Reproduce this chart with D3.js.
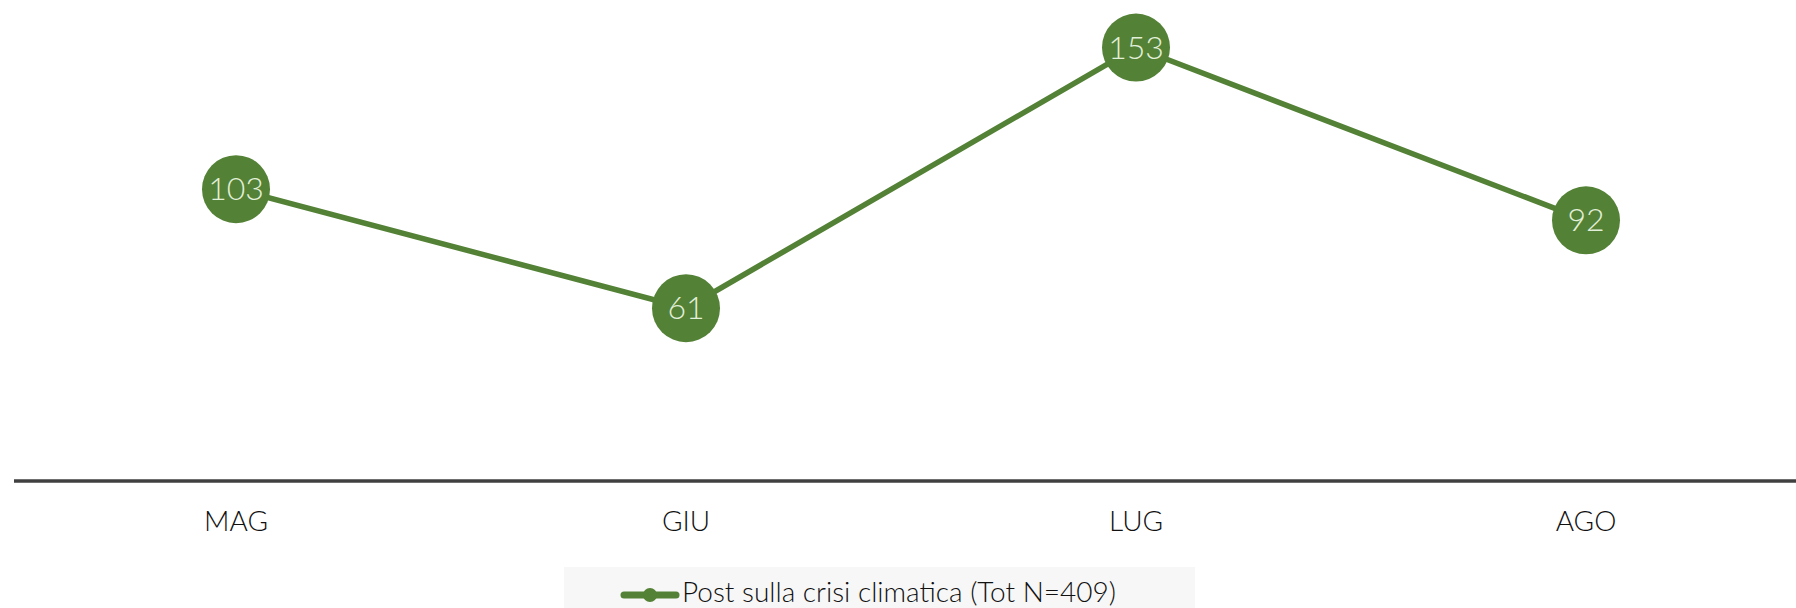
<!DOCTYPE html>
<html>
<head>
<meta charset="utf-8">
<script src="https://cdn.jsdelivr.net/npm/d3@7"></script>
<style>
  body { margin: 0; background: #fff; }
  svg text { font-family: Lato, "Open Sans", sans-serif; font-weight: 300; }
</style>
</head>
<body>
<div id="chart"></div>
<script>
  // Dati
  var mesi = ['MAG', 'GIU', 'LUG', 'AGO'];
  var post = [103, 61, 153, 92];
  var serieNome = 'Post sulla crisi climatica (Tot N=409)';

  var width = 1796;
  var height = 608;
  var verde = '#538135';

  var svg = d3.select('#chart')
      .append('svg')
      .attr('width', width)
      .attr('height', height);

  // Scale
  var x = d3.scaleBand()
      .domain(mesi)
      .range([11, 1811]);

  var y = d3.scaleLinear()
      .domain([0, 160])
      .range([481, 481 - 160 * 2.833]);

  // Asse x
  svg.append('line')
      .attr('x1', 14)
      .attr('x2', width)
      .attr('y1', y(0))
      .attr('y2', y(0))
      .attr('stroke', '#404040')
      .attr('stroke-width', 3.5);

  svg.selectAll('.mese')
      .data(mesi)
      .enter().append('text')
      .attr('class', 'mese')
      .attr('x', function(d) { return x(d) + x.bandwidth() / 2; })
      .attr('y', 531)
      .attr('text-anchor', 'middle')
      .attr('font-size', 28)
      .attr('fill', '#111')
      .text(function(d) { return d; });

  // Linea
  var line = d3.line()
      .x(function(d, i) { return x(mesi[i]) + x.bandwidth() / 2; })
      .y(function(d) { return y(d); });

  svg.append('path')
      .datum(post)
      .attr('d', line)
      .attr('fill', 'none')
      .attr('stroke', verde)
      .attr('stroke-width', 5.5);

  // Punti
  svg.selectAll('.punto')
      .data(post)
      .enter().append('circle')
      .attr('class', 'punto')
      .attr('cx', function(d, i) { return x(mesi[i]) + x.bandwidth() / 2; })
      .attr('cy', function(d) { return y(d); })
      .attr('r', 34)
      .attr('fill', verde);

  svg.selectAll('.etichetta')
      .data(post)
      .enter().append('text')
      .attr('class', 'etichetta')
      .attr('x', function(d, i) { return x(mesi[i]) + x.bandwidth() / 2; })
      .attr('y', function(d) { return y(d) + 11; })
      .attr('text-anchor', 'middle')
      .attr('font-size', 32)
      .attr('fill', '#e2efd9')
      .text(function(d) { return d; });

  // Legenda
  var leg = svg.append('g');
  leg.append('rect')
      .attr('x', 564)
      .attr('y', 567)
      .attr('width', 631)
      .attr('height', 41)
      .attr('fill', '#f7f7f7');
  leg.append('line')
      .attr('x1', 624)
      .attr('x2', 676)
      .attr('y1', 595)
      .attr('y2', 595)
      .attr('stroke', verde)
      .attr('stroke-width', 7)
      .attr('stroke-linecap', 'round');
  leg.append('circle')
      .attr('cx', 650)
      .attr('cy', 595)
      .attr('r', 7)
      .attr('fill', verde);
  leg.append('text')
      .attr('x', 682)
      .attr('y', 602)
      .attr('font-size', 28)
      .attr('fill', '#111')
      .text(serieNome);
</script>
</body>
</html>
